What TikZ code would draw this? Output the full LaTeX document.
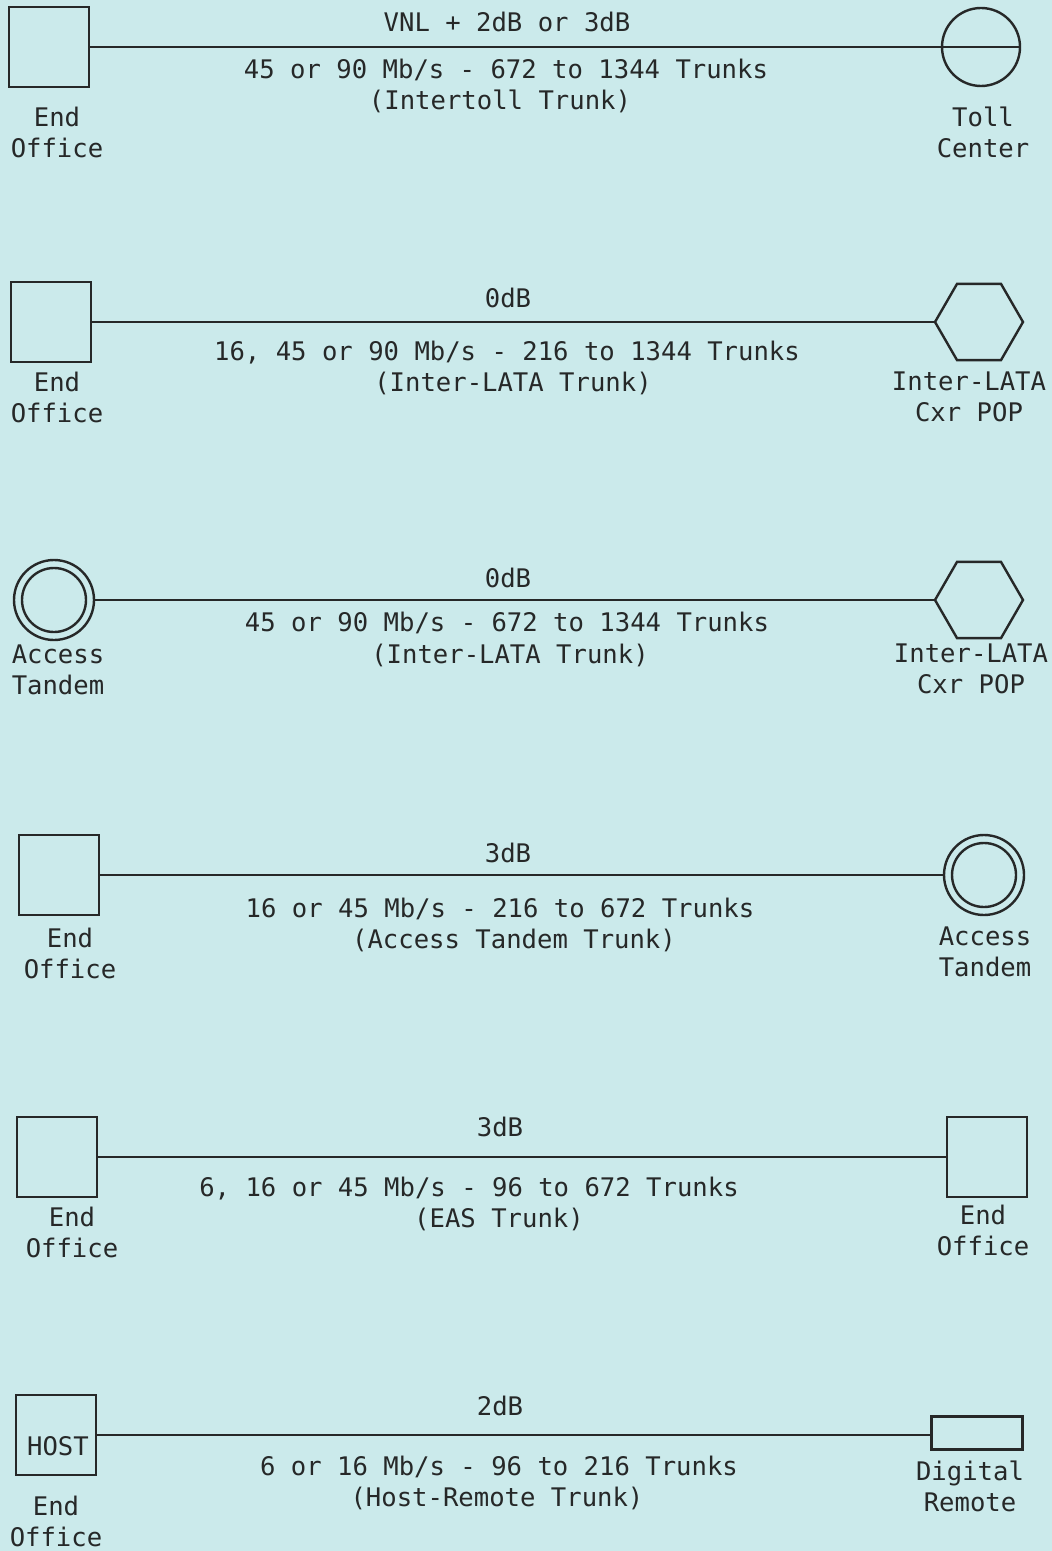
\documentclass[tikz,border=0pt]{standalone}
\usepackage{fontspec}
\setmainfont{DejaVu Sans Mono}
\usetikzlibrary{shapes.geometric}
\definecolor{bgcol}{RGB}{203,234,235}
\definecolor{inkcol}{RGB}{38,40,40}
\tikzset{
  office/.style={draw=inkcol, line width=1.3pt, rectangle, inner sep=0pt, minimum size=40pt},
  toll/.style={draw=inkcol, line width=1.2pt, circle, inner sep=0pt, minimum size=39pt},
  tandem/.style={draw=inkcol, line width=1.2pt, circle, inner sep=0pt, minimum size=40pt},
  pop/.style={draw=inkcol, line width=1.2pt, regular polygon, regular polygon sides=6, inner sep=0pt, minimum size=44pt},
  remote/.style={draw=inkcol, line width=1.3pt, rectangle, inner sep=0pt, minimum width=45.5pt, minimum height=16.5pt},
  trunk/.style={draw=inkcol, line width=1.3pt},
  txt/.style={text=inkcol, inner sep=0pt, anchor=base, font=\fontsize{12.8pt}{15.5pt}\selectfont},
  lbl/.style={text=inkcol, inner sep=0pt, align=center, font=\fontsize{12.8pt}{15.5pt}\selectfont}
}
\begin{document}
\begin{tikzpicture}[x=0.5pt,y=0.5pt,yscale=-1,xscale=1]
%Shape: Background
\fill[bgcol] (0,0) rectangle (1052,1551);
\useasboundingbox (0,0) rectangle (1052,1551);

%Row: End Office - Toll Center
\node[office] (eoA) at (49,47) {};
\node[toll] (tcA) at (981,47) {};
\draw[trunk] (eoA.east) -- (tcA.east);
% Text Node
\node[txt] (lvlA) at (507,32) {VNL + 2dB or 3dB};
\node[txt] (rateA) at (506,79) {45 or 90 Mb/s - 672 to 1344 Trunks};
\node[txt] (typeA) at (500,110) {(Intertoll Trunk)};
\node[lbl] (eoAlbl) at (57,132) {End\\Office};
\node[lbl] (tcAlbl) at (983,132) {Toll\\Center};

%Row: End Office - Inter-LATA Cxr POP
\node[office] (eoB) at (51,322) {};
\node[pop] (popB) at (979,322) {};
\draw[trunk] (eoB.east) -- (popB.west);
% Text Node
\node[txt] (lvlB) at (508,307) {0dB};
\node[txt] (rateB) at (507,361) {16, 45 or 90 Mb/s - 216 to 1344 Trunks};
\node[txt] (typeB) at (513,392) {(Inter-LATA Trunk)};
\node[lbl] (eoBlbl) at (57,397) {End\\Office};
\node[lbl] (popBlbl) at (969,397) {Inter-LATA\\Cxr POP};

%Row: Access Tandem - Inter-LATA Cxr POP
\node[tandem] (atC) at (54,600) {};
\draw[inkcol, line width=1.2pt] (atC.center) circle[radius=32];
\node[pop] (popC) at (979,600) {};
\draw[trunk] (atC.east) -- (popC.west);
% Text Node
\node[txt] (lvlC) at (508,587) {0dB};
\node[txt] (rateC) at (507,631) {45 or 90 Mb/s - 672 to 1344 Trunks};
\node[txt] (typeC) at (510,663) {(Inter-LATA Trunk)};
\node[lbl] (atClbl) at (58,670) {Access\\Tandem};
\node[lbl] (popClbl) at (971,669) {Inter-LATA\\Cxr POP};

%Row: End Office - Access Tandem
\node[office] (eoD) at (59,875) {};
\node[tandem] (atD) at (984,875) {};
\draw[inkcol, line width=1.2pt] (atD.center) circle[radius=32];
\draw[trunk] (eoD.east) -- (atD.west);
% Text Node
\node[txt] (lvlD) at (508,862) {3dB};
\node[txt] (rateD) at (500,917) {16 or 45 Mb/s - 216 to 672 Trunks};
\node[txt] (typeD) at (514,948) {(Access Tandem Trunk)};
\node[lbl] (eoDlbl) at (70,953) {End\\Office};
\node[lbl] (atDlbl) at (985,952) {Access\\Tandem};

%Row: End Office - End Office
\node[office] (eoE) at (57,1157) {};
\node[office] (eoF) at (987,1157) {};
\draw[trunk] (eoE.east) -- (eoF.west);
% Text Node
\node[txt] (lvlE) at (500,1136) {3dB};
\node[txt] (rateE) at (469,1196) {6, 16 or 45 Mb/s - 96 to 672 Trunks};
\node[txt] (typeE) at (499,1227) {(EAS Trunk)};
\node[lbl] (eoElbl) at (72,1232) {End\\Office};
\node[lbl] (eoFlbl) at (983,1230) {End\\Office};

%Row: Host - Digital Remote
\node[office] (hostG) at (56,1435) {};
\node[remote] (remG) at (977,1433) {};
\draw[trunk] (hostG.east) -- (hostG.east -| remG.west);
% Text Node
\node[txt] (hostGtxt) at (58,1455) {HOST};
\node[txt] (lvlG) at (500,1415) {2dB};
\node[txt] (rateG) at (499,1475) {6 or 16 Mb/s - 96 to 216 Trunks};
\node[txt] (typeG) at (497,1506) {(Host-Remote Trunk)};
\node[lbl] (hostGlbl) at (56,1521) {End\\Office};
\node[lbl] (remGlbl) at (970,1486) {Digital\\Remote};

\end{tikzpicture}
\end{document}
